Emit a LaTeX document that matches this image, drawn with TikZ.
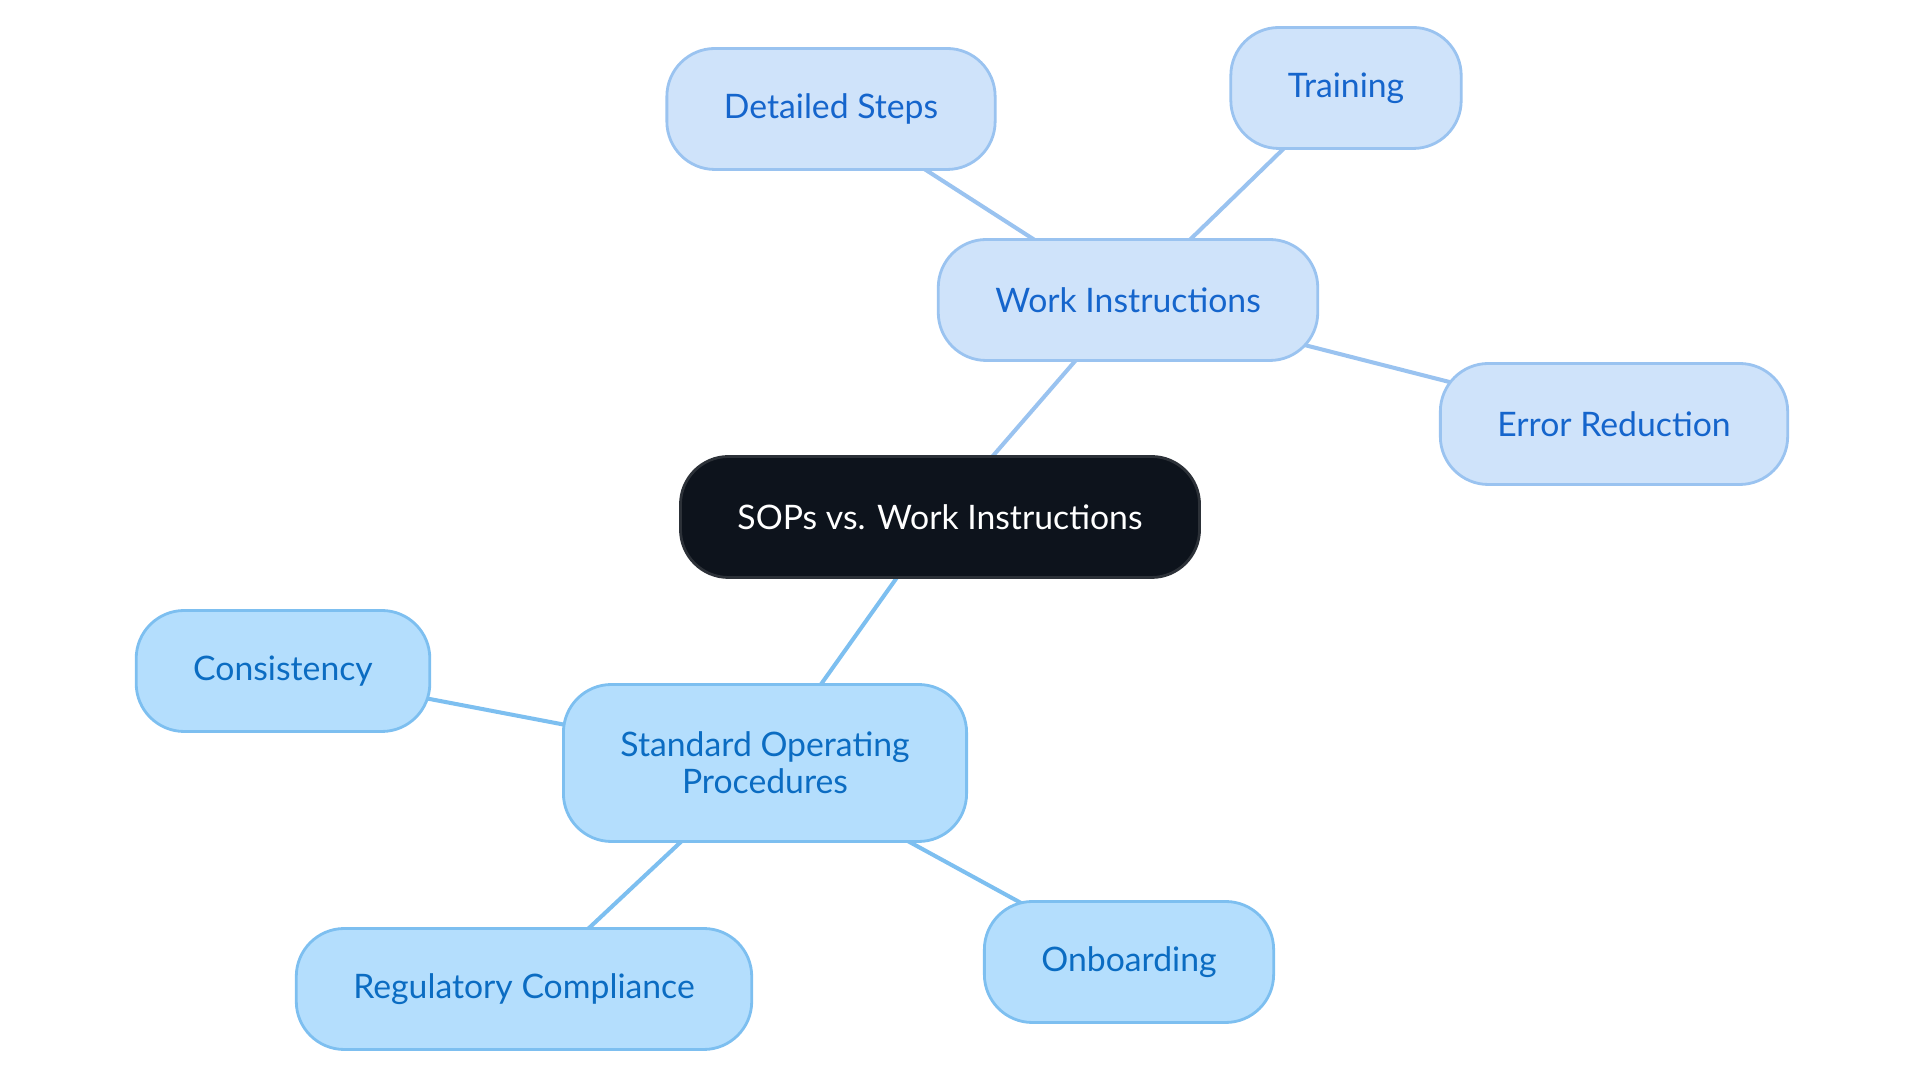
\documentclass[tikz,border=0pt]{standalone}
\usepackage{fontspec}
\setmainfont{Lato}
\usetikzlibrary{positioning,backgrounds}
\definecolor{rootfill}{HTML}{0D131C}
\definecolor{rootdraw}{HTML}{2C3138}
\definecolor{wifill}{HTML}{CFE3FA}
\definecolor{widraw}{HTML}{9AC3F0}
\definecolor{witext}{HTML}{1565CC}
\definecolor{sopfill}{HTML}{B4DEFD}
\definecolor{sopdraw}{HTML}{7DBFF0}
\definecolor{soptext}{HTML}{0B6CC2}

\begin{document}
\begin{tikzpicture}[
    base node/.style={rectangle,rounded corners=0.48cm,line width=0.8pt,inner xsep=0.57cm,minimum height=1.21cm,font=\fontsize{9.6}{10.6}\selectfont,align=center},
    root node/.style={base node,fill=rootfill,draw=rootdraw,text=white},
    wi node/.style={base node,fill=wifill,draw=widraw,text=witext},
    sop node/.style={base node,fill=sopfill,draw=sopdraw,text=soptext}]
   \useasboundingbox (0,0) rectangle (19.2,10.83);
   % centre and the two branches
   \node[root node] (root) at (9.40,5.66) {SOPs vs. Work Instructions};
   \node[wi node] (wi) at (11.28,7.83) {Work Instructions};
   \node[sop node,minimum height=1.57cm] (sop) at (7.65,3.20) {Standard Operating\\Procedures};
   % leaves of work instructions
   \node[wi node] (steps) at (8.31,9.74) {Detailed Steps};
   \node[wi node] (train) at (13.46,9.95) {Training};
   \node[wi node] (error) at (16.14,6.59) {Error Reduction};
   % leaves of SOPs
   \node[sop node] (cons) at (2.83,4.12) {Consistency};
   \node[sop node] (reg) at (5.24,0.94) {Regulatory Compliance};
   \node[sop node] (onb) at (11.29,1.21) {Onboarding};
   \begin{scope}[on background layer]
      \path[-,line width=1.15pt,draw=widraw] (root.center) edge (wi.center);
      \path[-,line width=1.15pt,draw=widraw] (wi.center) edge (steps.center);
      \path[-,line width=1.15pt,draw=widraw] (wi.center) edge (train.center);
      \path[-,line width=1.15pt,draw=widraw] (wi.center) edge (error.center);
      \path[-,line width=1.15pt,draw=sopdraw] (root.center) edge (sop.center);
      \path[-,line width=1.15pt,draw=sopdraw] (sop.center) edge (cons.center);
      \path[-,line width=1.15pt,draw=sopdraw] (sop.center) edge (reg.center);
      \path[-,line width=1.15pt,draw=sopdraw] (sop.center) edge (onb.center);
   \end{scope}
\end{tikzpicture}
\end{document}
